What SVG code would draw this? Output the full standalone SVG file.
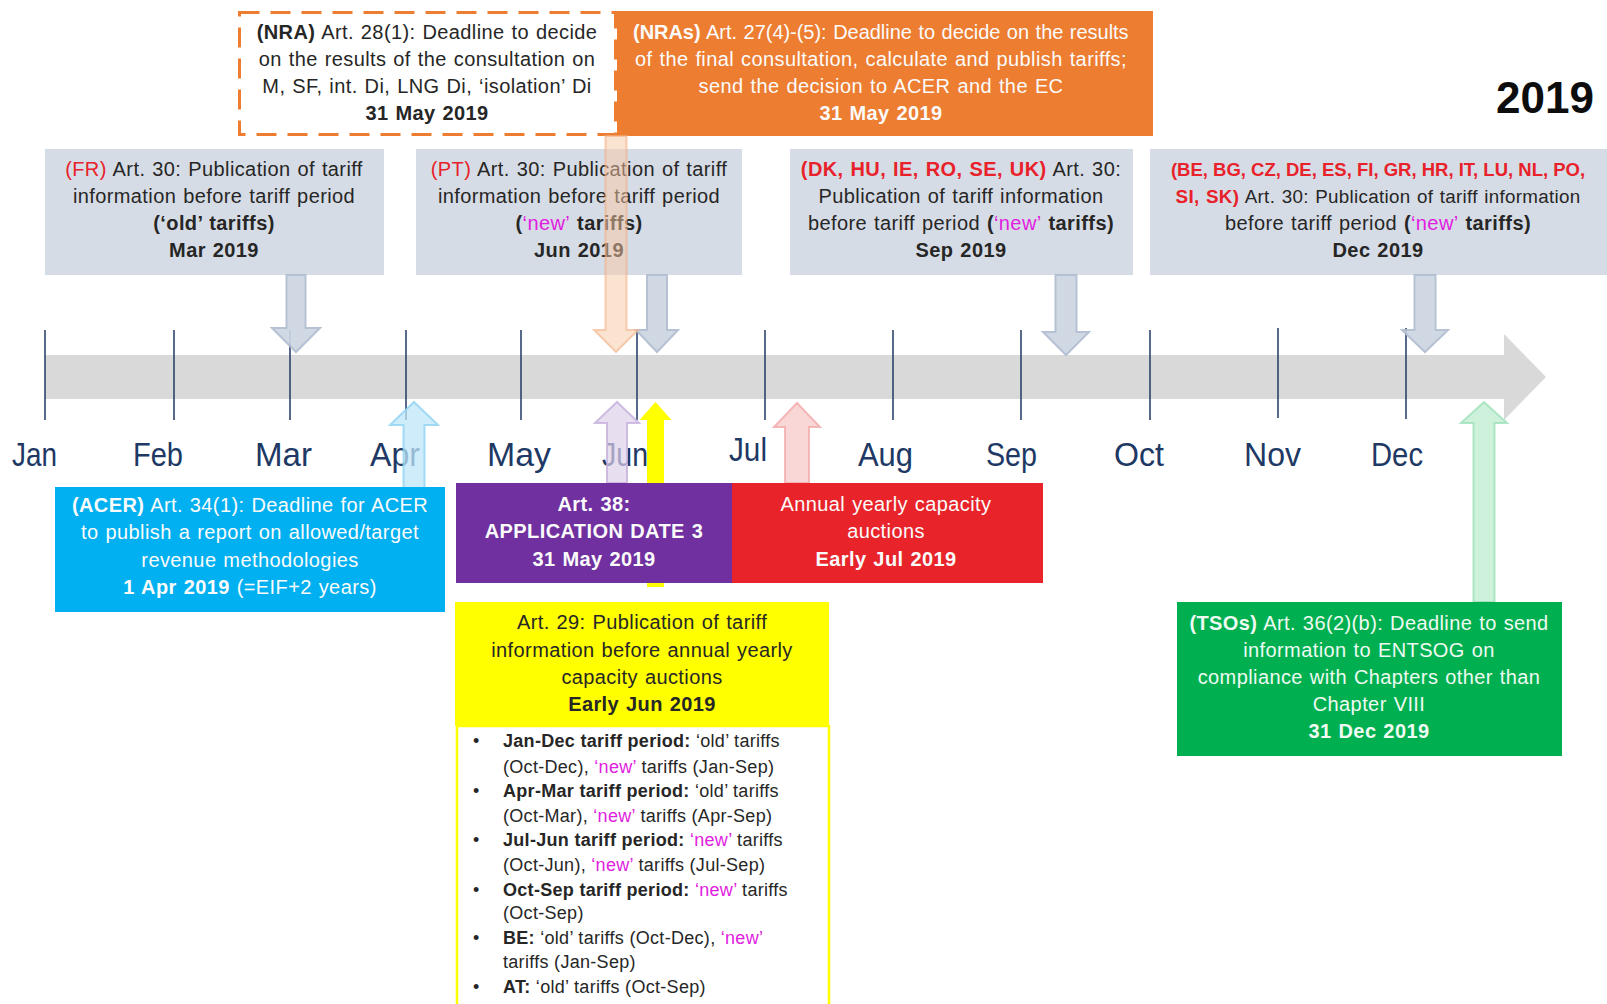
<svg xmlns="http://www.w3.org/2000/svg" width="1607" height="1004" viewBox="0 0 1607 1004">
<style>
text{font-family:"Liberation Sans",Arial,sans-serif}
.t{font-size:20px;letter-spacing:0.4px;word-spacing:1px;text-anchor:middle;fill:#262626}
.w{fill:#fbfbfb}
.b{font-weight:bold}
.r{fill:#e8212a}
.m{fill:#e020e0}
.mo{font-size:34px;fill:#203864}
.li{font-size:18px;letter-spacing:0.3px;fill:#262626}
.tick{stroke:#1f3864;stroke-width:1.5}
.ga{fill:#cdd5e2;stroke:#b0bdd1;stroke-width:2;opacity:.92}
.gbox{fill:#d6dce5}
.gt{fill:#eefaf2}
</style>
<rect width="1607" height="1004" fill="#ffffff"/>

<g id="timeline">
<rect x="45" y="355" width="1459" height="44" fill="#d9d9d9"/>
<polygon points="1504,334 1546,377 1504,420" fill="#d9d9d9"/>
<g class="tick">
<line x1="45" y1="330" x2="45" y2="420"/>
<line x1="174" y1="330" x2="174" y2="420"/>
<line x1="290" y1="330" x2="290" y2="420"/>
<line x1="406" y1="330" x2="406" y2="420"/>
<line x1="521" y1="330" x2="521" y2="420"/>
<line x1="637" y1="330" x2="637" y2="420"/>
<line x1="765" y1="330" x2="765" y2="420"/>
<line x1="893" y1="330" x2="893" y2="420"/>
<line x1="1021" y1="330" x2="1021" y2="420"/>
<line x1="1150" y1="330" x2="1150" y2="420"/>
<line x1="1278" y1="328" x2="1278" y2="418"/>
<line x1="1406" y1="328" x2="1406" y2="419"/>
</g>
<g id="months" class="mo">
<text x="12" y="466" textLength="45" lengthAdjust="spacingAndGlyphs">Jan</text>
<text x="133" y="466" textLength="50" lengthAdjust="spacingAndGlyphs">Feb</text>
<text x="255" y="466" textLength="57" lengthAdjust="spacingAndGlyphs">Mar</text>
<text x="370" y="466" textLength="50" lengthAdjust="spacingAndGlyphs">Apr</text>
<text x="487" y="466" textLength="64" lengthAdjust="spacingAndGlyphs">May</text>
<text x="602" y="466" textLength="46" lengthAdjust="spacingAndGlyphs">Jun</text>
<text x="729" y="461" textLength="38" lengthAdjust="spacingAndGlyphs">Jul</text>
<text x="858" y="466" textLength="55" lengthAdjust="spacingAndGlyphs">Aug</text>
<text x="986" y="466" textLength="51" lengthAdjust="spacingAndGlyphs">Sep</text>
<text x="1114" y="466" textLength="50" lengthAdjust="spacingAndGlyphs">Oct</text>
<text x="1244" y="466" textLength="57" lengthAdjust="spacingAndGlyphs">Nov</text>
<text x="1371" y="466" textLength="52" lengthAdjust="spacingAndGlyphs">Dec</text>
</g>
</g>

<g id="year">
<text x="1594" y="113" font-size="44" font-weight="bold" text-anchor="end" fill="#0d0d0d">2019</text>
</g>

<g id="nra">
<rect x="239.5" y="12.5" width="376" height="122" fill="#ffffff" stroke="#ed7d31" stroke-width="3" stroke-dasharray="20 11"/>
<text class="t" x="427" y="39"><tspan class="b">(NRA)</tspan> Art.  28(1): Deadline to decide</text>
<text class="t" x="427" y="66">on the results of the consultation on</text>
<text class="t" x="427" y="93">M, SF, int. Di, LNG Di, ‘isolation’ Di</text>
<text class="t b" x="427" y="120">31 May 2019</text>
</g>

<g id="nras">
<rect x="617" y="11" width="536" height="125" fill="#ed7d31"/>
<text class="t w" x="881" y="39" textLength="496"><tspan class="b">(NRAs)</tspan> Art. 27(4)-(5): Deadline to decide on the results</text>
<text class="t w" x="881" y="66">of the final consultation, calculate and publish tariffs;</text>
<text class="t w" x="881" y="93">send the decision to ACER and the EC</text>
<text class="t w b" x="881" y="120">31 May 2019</text>
</g>

<g id="fr">
<rect class="gbox" x="45" y="149" width="339" height="126"/>
<text class="t" x="214" y="176"><tspan class="r">(FR)</tspan> Art. 30: Publication of tariff</text>
<text class="t" x="214" y="203">information before tariff period</text>
<text class="t b" x="214" y="230">(‘old’ tariffs)</text>
<text class="t b" x="214" y="257">Mar 2019</text>
</g>

<g id="pt">
<rect class="gbox" x="416" y="149" width="326" height="126"/>
<text class="t" x="579" y="176"><tspan class="r">(PT)</tspan> Art. 30: Publication of tariff</text>
<text class="t" x="579" y="203">information before tariff period</text>
<text class="t" x="579" y="230"><tspan class="b">(</tspan><tspan class="m">‘new’</tspan><tspan class="b"> tariffs)</tspan></text>
<text class="t b" x="579" y="257">Jun 2019</text>
</g>

<g id="dk">
<rect class="gbox" x="790" y="149" width="343" height="126"/>
<text class="t" x="961" y="176"><tspan class="r b">(DK, HU, IE, RO, SE, UK)</tspan> Art. 30:</text>
<text class="t" x="961" y="203">Publication of tariff information</text>
<text class="t" x="961" y="230">before tariff period <tspan class="b">(</tspan><tspan class="m">‘new’</tspan><tspan class="b"> tariffs)</tspan></text>
<text class="t b" x="961" y="257">Sep 2019</text>
</g>

<g id="be">
<rect class="gbox" x="1150" y="149" width="457" height="126"/>
<text class="t r b" x="1378" y="176" style="font-size:18.5px;letter-spacing:0;word-spacing:0">(BE, BG, CZ, DE, ES, FI, GR, HR, IT, LU, NL, PO,</text>
<text class="t" x="1378" y="203" style="font-size:18.8px;letter-spacing:0.3px"><tspan class="r b">SI, SK)</tspan> Art. 30: Publication of tariff information</text>
<text class="t" x="1378" y="230">before tariff period <tspan class="b">(</tspan><tspan class="m">‘new’</tspan><tspan class="b"> tariffs)</tspan></text>
<text class="t b" x="1378" y="257">Dec 2019</text>
</g>

<g id="connectors">
<path class="ga" d="M286.5,275 L305.5,275 L305.5,328 L320,328 L296,352 L272,328 L286.5,328 Z"/>
<path class="ga" d="M647,275 L667,275 L667,330 L678,330 L657,352 L636,330 L647,330 Z"/>
<path class="ga" d="M1055.5,275 L1076.5,275 L1076.5,332 L1089,332 L1066,355 L1043,332 L1055.5,332 Z"/>
<path class="ga" d="M1414.5,275 L1435.5,275 L1435.5,330 L1448,330 L1425,352 L1402,330 L1414.5,330 Z"/>
<path d="M605.5,136 L626.5,136 L626.5,330 L638,330 L616,352 L594,330 L605.5,330 Z" fill="#f8c7a6" fill-opacity="0.5" stroke="#f4b183" stroke-width="2" stroke-opacity="0.6"/>
<path d="M403.5,488 L403.5,425 L390,425 L414,402 L438,425 L424.5,425 L424.5,488 Z" fill="#bfe6f8" fill-opacity="0.75" stroke="#8fd3f2" stroke-width="2" stroke-opacity="0.8"/>
<path d="M607,483 L607,423 L595,423 L617,402 L639,423 L627,423 L627,483 Z" fill="#ddd0ea" fill-opacity="0.7" stroke="#c4afdc" stroke-width="2" stroke-opacity="0.8"/>
<path d="M647,587 L647,420 L639.5,420 L655.5,402 L671.5,420 L664,420 L664,587 Z" fill="#ffff00"/>
<path d="M785,483 L785,427 L774,427 L797,403 L820,427 L809,427 L809,483 Z" fill="#f9d0d0" fill-opacity="0.85" stroke="#f4a9a9" stroke-width="2" stroke-opacity="0.8"/>
<path d="M1473.5,602 L1473.5,423 L1461,423 L1484,402 L1507,423 L1494.5,423 L1494.5,602 Z" fill="#c6eed6" fill-opacity="0.85" stroke="#9ee0b8" stroke-width="2" stroke-opacity="0.8"/>
</g>

<g id="acer">
<rect x="55" y="487" width="390" height="125" fill="#00b0f0"/>
<text class="t w" x="250" y="512"><tspan class="b">(ACER)</tspan> Art. 34(1): Deadline for ACER</text>
<text class="t w" x="250" y="539">to publish a report on allowed/target</text>
<text class="t w" x="250" y="567">revenue  methodologies</text>
<text class="t w" x="250" y="594"><tspan class="b">1 Apr 2019</tspan> (=EIF+2 years)</text>
</g>

<g id="art38">
<rect x="456" y="483" width="276" height="100" fill="#7030a0"/>
<text class="t w b" x="594" y="511">Art. 38:</text>
<text class="t w b" x="594" y="538">APPLICATION DATE 3</text>
<text class="t w b" x="594" y="566">31 May 2019</text>
</g>

<g id="auctions">
<rect x="732" y="483" width="311" height="100" fill="#e8232a"/>
<text class="t w" x="886" y="511">Annual yearly capacity</text>
<text class="t w" x="886" y="538">auctions</text>
<text class="t w b" x="886" y="566">Early Jul 2019</text>
</g>

<g id="art29">
<rect x="455" y="602" width="374" height="124" fill="#ffff00"/>
<text class="t" x="642" y="629">Art. 29: Publication of tariff</text>
<text class="t" x="642" y="657">information before annual yearly</text>
<text class="t" x="642" y="684">capacity auctions</text>
<text class="t b" x="642" y="711">Early Jun 2019</text>
</g>

<g id="art29list">
<rect x="457" y="726" width="372" height="290" fill="#ffffff" stroke="#ffff00" stroke-width="2.5"/>
<g class="li">
<text x="473" y="747">•</text>
<text x="503" y="747"><tspan class="b">Jan-Dec tariff period:</tspan>  ‘old’ tariffs</text>
<text x="503" y="773">(Oct-Dec), <tspan class="m">‘new’</tspan> tariffs (Jan-Sep)</text>
<text x="473" y="797">•</text>
<text x="503" y="797"><tspan class="b">Apr-Mar tariff period:</tspan>  ‘old’ tariffs</text>
<text x="503" y="822">(Oct-Mar), <tspan class="m">‘new’</tspan> tariffs (Apr-Sep)</text>
<text x="473" y="846">•</text>
<text x="503" y="846"><tspan class="b">Jul-Jun tariff period:</tspan> <tspan class="m">‘new’</tspan> tariffs</text>
<text x="503" y="871">(Oct-Jun), <tspan class="m">‘new’</tspan> tariffs (Jul-Sep)</text>
<text x="473" y="896">•</text>
<text x="503" y="896"><tspan class="b">Oct-Sep tariff period:</tspan> <tspan class="m">‘new’</tspan> tariffs</text>
<text x="503" y="919">(Oct-Sep)</text>
<text x="473" y="944">•</text>
<text x="503" y="944"><tspan class="b">BE:</tspan> ‘old’ tariffs (Oct-Dec), <tspan class="m">‘new’</tspan></text>
<text x="503" y="968">tariffs (Jan-Sep)</text>
<text x="473" y="993">•</text>
<text x="503" y="993"><tspan class="b">AT:</tspan> ‘old’ tariffs (Oct-Sep)</text>
</g>
</g>

<g id="tsos">
<rect x="1177" y="602" width="385" height="154" fill="#00b050"/>
<text class="t gt" x="1369" y="630"><tspan class="b">(TSOs)</tspan>  Art. 36(2)(b): Deadline to send</text>
<text class="t gt" x="1369" y="657">information to ENTSOG  on</text>
<text class="t gt" x="1369" y="684">compliance with Chapters other than</text>
<text class="t gt" x="1369" y="711">Chapter VIII</text>
<text class="t gt b" x="1369" y="738">31 Dec 2019</text>
</g>
</svg>
